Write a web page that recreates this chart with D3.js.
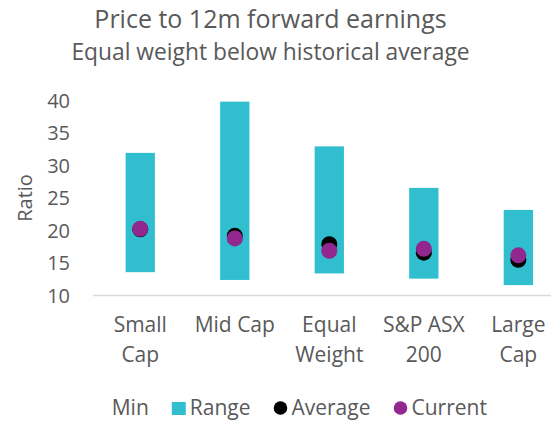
<!DOCTYPE html>
<html>
<head>
<meta charset="utf-8">
<script src="https://cdn.jsdelivr.net/npm/d3@7"></script>
<style>
  body { margin: 0; background: #fff; }
  svg { display: block; font-family: "Open Sans", sans-serif; }
</style>
</head>
<body>
<svg id="chart" width="551" height="421"></svg>
<script>
const categories = [["Small", "Cap"], ["Mid Cap"], ["Equal", "Weight"], ["S&P ASX", "200"], ["Large", "Cap"]];
const minValues = [13.6, 12.4, 13.4, 12.6, 11.6];
const maxValues = [32.0, 39.9, 33.0, 26.6, 23.2];
const averageValues = [20.2, 19.2, 17.9, 16.6, 15.5];
const currentValues = [20.3, 18.8, 16.9, 17.2, 16.2];
const yTicks = [10, 15, 20, 25, 30, 35, 40];

const textColor = '#595959';
const rangeColor = '#31bfcf';
const currentColor = '#92278f';

const svg = d3.select('#chart');
const margin = { top: 101, left: 93, bottom: 295.5 };

const keys = categories.map((c) => c.join(' '));
const x = d3.scaleBand().domain(keys).range([margin.left, 565.6]).padding(0);
const y = d3.scaleLinear().domain([10, 40]).range([margin.bottom, margin.top]);
const barWidth = x.bandwidth() * 0.31;

// Titles
svg.append('text')
  .attr('x', 270.5).attr('y', 28)
  .attr('text-anchor', 'middle')
  .attr('font-size', 25).attr('fill', textColor)
  .text('Price to 12m forward earnings');
svg.append('text')
  .attr('x', 270.5).attr('y', 60)
  .attr('text-anchor', 'middle')
  .attr('font-size', 22.8).attr('fill', textColor)
  .text('Equal weight below historical average');

// Y axis labels
svg.append('g')
  .selectAll('text')
  .data(yTicks)
  .join('text')
  .attr('x', 70)
  .attr('y', (d) => y(d))
  .attr('dy', '0.35em')
  .attr('text-anchor', 'end')
  .attr('font-size', 20)
  .attr('fill', textColor)
  .text((d) => d);

svg.append('text')
  .attr('transform', 'translate(25,198) rotate(-90)')
  .attr('text-anchor', 'middle')
  .attr('dy', '0.35em')
  .attr('font-size', 20)
  .attr('fill', textColor)
  .text('Ratio');

// Baseline
svg.append('line')
  .attr('x1', margin.left).attr('x2', 565.6)
  .attr('y1', y(10)).attr('y2', y(10))
  .attr('stroke', '#d9d9d9').attr('stroke-width', 1.5);

// Range bars
svg.append('g')
  .selectAll('rect')
  .data(keys)
  .join('rect')
  .attr('x', (d) => x(d) + (x.bandwidth() - barWidth) / 2)
  .attr('y', (d, i) => y(maxValues[i]))
  .attr('width', barWidth)
  .attr('height', (d, i) => y(minValues[i]) - y(maxValues[i]))
  .attr('fill', rangeColor);

// Average and current dots
const cx = (d) => x(d) + x.bandwidth() / 2;
svg.append('g')
  .selectAll('circle')
  .data(keys)
  .join('circle')
  .attr('cx', cx)
  .attr('cy', (d, i) => y(averageValues[i]))
  .attr('r', 8)
  .attr('fill', '#000');
svg.append('g')
  .selectAll('circle')
  .data(keys)
  .join('circle')
  .attr('cx', cx)
  .attr('cy', (d, i) => y(currentValues[i]))
  .attr('r', 8)
  .attr('fill', currentColor);

// Category labels
svg.append('g')
  .selectAll('text')
  .data(categories)
  .join('text')
  .attr('x', (d, i) => cx(keys[i]))
  .attr('y', 332)
  .attr('text-anchor', 'middle')
  .attr('font-size', 21)
  .attr('fill', textColor)
  .selectAll('tspan')
  .data((d) => d)
  .join('tspan')
  .attr('x', function () { return this.parentNode.getAttribute('x'); })
  .attr('dy', (d, i) => (i === 0 ? 0 : 30))
  .text((d) => d);

// Legend
const legendItems = [
  { label: 'Min', type: 'none' },
  { label: 'Range', type: 'rect', color: rangeColor },
  { label: 'Average', type: 'circle', color: '#000' },
  { label: 'Current', type: 'circle', color: currentColor }
];
const legend = svg.append('g');
let lx = 111.7;
const ly = 415;
legendItems.forEach((item) => {
  if (item.type === 'rect') {
    legend.append('rect').attr('x', lx).attr('y', ly - 13).attr('width', 14).attr('height', 13).attr('fill', item.color);
    lx += 18;
  } else if (item.type === 'circle') {
    legend.append('circle').attr('cx', lx + 7).attr('cy', ly - 7).attr('r', 6.8).attr('fill', item.color);
    lx += 18;
  }
  const t = legend.append('text')
    .attr('x', lx).attr('y', ly)
    .attr('font-size', 21).attr('fill', textColor)
    .text(item.label);
  lx += t.node().getComputedTextLength() + 23;
});
</script>
</body>
</html>
